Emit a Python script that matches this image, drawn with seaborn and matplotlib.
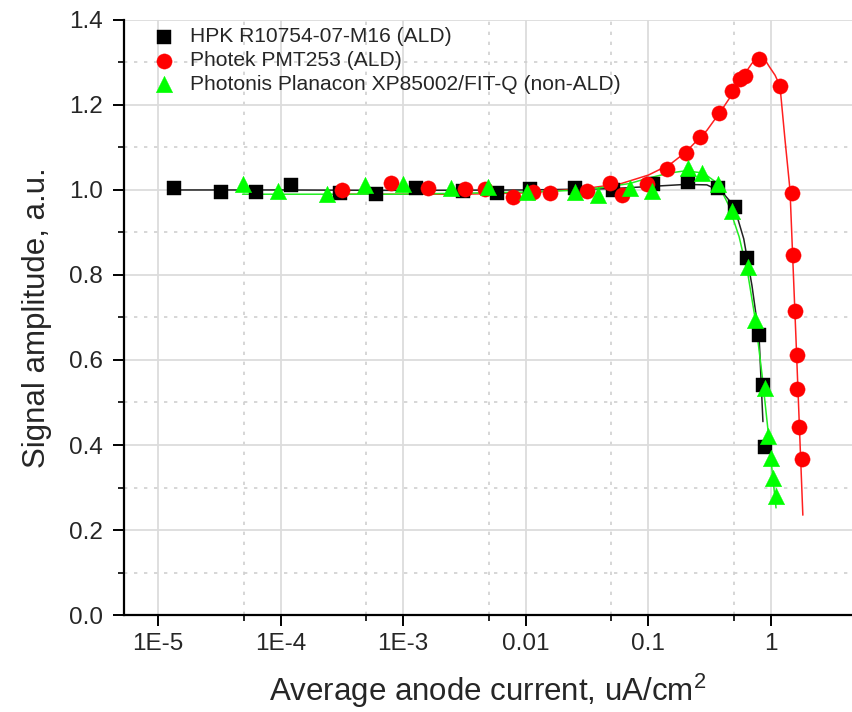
import numpy as np
import pandas as pd
import matplotlib
matplotlib.use("Agg")
import matplotlib.pyplot as plt
from matplotlib.ticker import FixedLocator, FixedFormatter, MultipleLocator
import seaborn as sns

# ---- data ----
hpk_x = [1.35e-5, 3.27e-5, 6.3e-5, 1.22e-4, 3.05e-4, 6.0e-4, 1.27e-3, 3.07e-3, 5.8e-3,
         0.0108, 0.0252, 0.0514, 0.109, 0.21, 0.37, 0.508, 0.637, 0.798, 0.86, 0.894]
hpk_y = [1.005, 0.995, 0.995, 1.012, 0.993, 0.991, 1.005, 0.997, 0.993,
         1.002, 1.005, 1.0, 1.014, 1.019, 1.005, 0.96, 0.84, 0.659, 0.54, 0.395]

photek_x = [3.17e-4, 7.9e-4, 1.59e-3, 3.19e-3, 4.65e-3, 7.87e-3, 0.01146, 0.0157, 0.0316,
            0.0486, 0.061, 0.0975, 0.142, 0.203, 0.264, 0.377, 0.481, 0.559, 0.614, 0.798,
            1.184, 1.48, 1.51, 1.57, 1.63, 1.64, 1.69, 1.79]
photek_y = [1.0, 1.016, 1.005, 1.002, 1.003, 0.984, 0.995, 0.993, 0.998,
            1.016, 0.988, 1.014, 1.05, 1.087, 1.125, 1.181, 1.233, 1.261, 1.268, 1.308,
            1.245, 0.993, 0.847, 0.715, 0.612, 0.532, 0.442, 0.367]

photonis_x = [4.93e-5, 9.5e-5, 2.39e-4, 4.88e-4, 9.95e-4, 2.45e-3, 4.92e-3, 0.0102, 0.0252,
              0.0388, 0.0708, 0.107, 0.21, 0.274, 0.37, 0.481, 0.649, 0.741, 0.894, 0.946,
              1.0, 1.038, 1.099]
photonis_y = [1.014, 0.998, 0.99, 1.012, 1.014, 1.005, 1.007, 0.995, 0.995,
              0.988, 1.005, 0.997, 1.052, 1.04, 1.014, 0.95, 0.818, 0.695, 0.535, 0.42,
              0.37, 0.322, 0.28]

# fitted curves as drawn in the picture
hpk_fit_x = [1.35e-5, 1e-4, 1e-3, 1e-2, 0.05, 0.1, 0.2, 0.3, 0.4, 0.5, 0.6, 0.7, 0.8, 0.86]
hpk_fit_y = [1.0, 1.0, 0.999, 1.0, 1.003, 1.008, 1.013, 1.012, 0.995, 0.962, 0.885, 0.775, 0.655, 0.455]

photek_fit_x = [3.2e-4, 3e-3, 0.01, 0.03, 0.06, 0.1, 0.15, 0.2, 0.3, 0.4, 0.5, 0.6, 0.7, 0.8,
                0.9, 0.97, 1.08, 1.184, 1.3, 1.43, 1.6, 1.82]
photek_fit_y = [0.99, 0.99, 0.993, 1.003, 1.015, 1.035, 1.06, 1.088, 1.14, 1.19, 1.232, 1.27,
                1.298, 1.312, 1.305, 1.29, 1.27, 1.245, 1.12, 1.0, 0.65, 0.235]

photonis_fit_x = [4.9e-5, 1e-3, 0.01, 0.03, 0.07, 0.1, 0.15, 0.2, 0.28, 0.37, 0.45, 0.55,
                  0.65, 0.75, 0.85, 0.95, 1.03, 1.1]
photonis_fit_y = [0.99, 0.99, 0.995, 1.0, 1.015, 1.028, 1.04, 1.045, 1.04, 1.015, 0.965, 0.89,
                  0.8, 0.69, 0.56, 0.43, 0.33, 0.252]

labels = ["HPK R10754-07-M16 (ALD)", "Photek PMT253 (ALD)",
          "Photonis Planacon XP85002/FIT-Q (non-ALD)"]

x_ticks = [1e-5, 1e-4, 1e-3, 1e-2, 0.1, 1]
x_ticklabels = ["1E-5", "1E-4", "1E-3", "0.01", "0.1", "1"]
x_minor = [5e-6, 5e-5, 5e-4, 5e-3, 0.05, 0.5]
y_ticks = [0.0, 0.2, 0.4, 0.6, 0.8, 1.0, 1.2, 1.4]
y_ticklabels = ["0.0", "0.2", "0.4", "0.6", "0.8", "1.0", "1.2", "1.4"]

# ---- plotting ----
sns.set_theme(style="white")
plt.rcParams['font.family'] = ['Liberation Sans', 'DejaVu Sans']
plt.rcParams['mathtext.fontset'] = 'custom'
plt.rcParams['mathtext.rm'] = 'Liberation Sans'

fig = plt.figure(figsize=(8.52, 7.12), dpi=100)
ax = fig.add_axes([0.1455, 0.1362, 0.8545, 0.8358])

ax.set_xscale("log")
ax.set_xlim(10 ** -5.277, 10 ** 0.661)
ax.set_ylim(0.0, 1.4)

# grid
ax.set_axisbelow(True)
ax.xaxis.set_major_locator(FixedLocator(x_ticks))
ax.xaxis.set_major_formatter(FixedFormatter(x_ticklabels))
ax.xaxis.set_minor_locator(FixedLocator(x_minor))
ax.xaxis.set_minor_formatter(FixedFormatter([""] * len(x_minor)))
ax.yaxis.set_major_locator(FixedLocator(y_ticks))
ax.yaxis.set_major_formatter(FixedFormatter(y_ticklabels))
ax.yaxis.set_minor_locator(MultipleLocator(0.1))
ax.grid(which="major", color="#dcdcdc", linewidth=1.3, linestyle="-")
ax.grid(which="minor", color="#d0d0d0", linewidth=1.2, linestyle=(0, (2, 4)))

fits = [
    (hpk_fit_x, hpk_fit_y, "#222222"),
    (photek_fit_x, photek_fit_y, "#ff2020"),
    (photonis_fit_x, photonis_fit_y, "#22ee22"),
]
for fx, fy, col in fits:
    sns.lineplot(x=fx, y=fy, ax=ax, color=col, linewidth=1.1, sort=False,
                 estimator=None, zorder=2, legend=False)

series = [
    (hpk_x, hpk_y, "black", "s", 90, labels[0]),
    (photek_x, photek_y, "#ff0000", "o", 120, labels[1]),
    (photonis_x, photonis_y, "#00ff00", "^", 140, labels[2]),
]
for sx, sy, col, mk, size, lab in series:
    sns.scatterplot(x=sx, y=sy, ax=ax, color=col, marker=mk, s=size,
                    edgecolor=col, linewidth=0.3, zorder=3, label=lab)

leg = ax.legend(loc="upper left", bbox_to_anchor=(0.014, 1.012), frameon=False,
                fontsize=15.1, handletextpad=0.55, labelspacing=0.22,
                borderaxespad=0.3, handlelength=1.4)

# spines and ticks
for side in ["top", "right"]:
    ax.spines[side].set_visible(False)
for side in ["left", "bottom"]:
    ax.spines[side].set_color("black")
    ax.spines[side].set_linewidth(1.6)
ax.tick_params(which="major", direction="out", length=8, width=1.4, color="black",
               labelsize=17.5, bottom=True, left=True)
ax.tick_params(axis="y", which="major", pad=7)
ax.tick_params(axis="x", which="major", pad=5)
ax.tick_params(which="minor", direction="out", length=4.5, width=1.2, color="black",
               bottom=True, left=True)

ax.set_ylabel("Signal amplitude, a.u.", fontsize=22.5, labelpad=12)
ax.set_xlabel(r"Average anode current, uA/cm$^\mathregular{2}$", fontsize=22.5, labelpad=12)

fig.savefig("out.png", dpi=100)
